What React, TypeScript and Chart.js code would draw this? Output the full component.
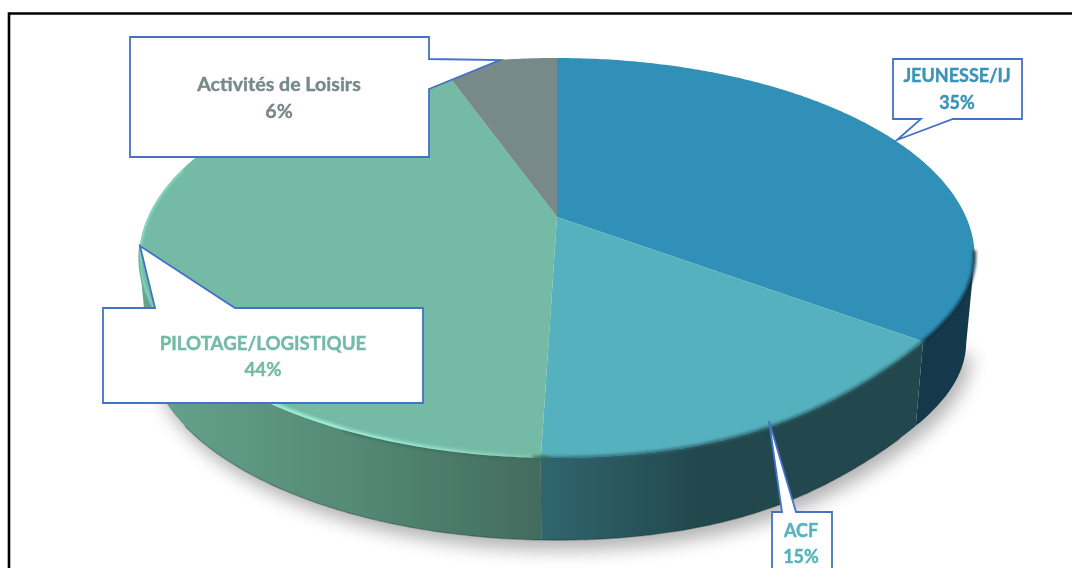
import React, { useEffect, useRef } from "react";
import { Chart, registerables } from "chart.js";

Chart.register(...registerables);

const categories = ["JEUNESSE/IJ", "ACF", "PILOTAGE/LOGISTIQUE", "Activités de Loisirs"];
const values = [35, 15.5, 44, 5.5];
const valueLabels = ["35%", "15%", "44%", "6%"];
const colors = ["#3190B7", "#55B1BD", "#74BAA5", "#78898A"];
const labelColors = ["#3A93B8", "#55B3BF", "#74BAA5", "#78898A"];

// Projection of the tilted disc
const CX = 557, CY = 217, AX = 409, AY = 191.6, P = -0.205;
const DEPTH = 87, SHRINK = 0.98;
const SIDE_FROM = (101.8 * Math.PI) / 180, SIDE_TO = (258.2 * Math.PI) / 180;

const project = (t: number, lower = false) => {
  const u = Math.sin(t), v = -Math.cos(t), d = 1 + P * v;
  const s = lower ? SHRINK : 1;
  // the lower right quadrant of the reference's rim sits slightly inward
  const inQuad = t > Math.PI / 2 && t < Math.PI;
  const dent = inQuad ? 1 - 0.033 * Math.sin(2 * (t - Math.PI / 2)) ** 4 : 1;
  return {
    x: CX + (dent * s * AX * u) / d,
    y: CY + (lower ? DEPTH : 0) + (dent * s * AY * v) / d,
  };
};
const rimPath = (ctx: CanvasRenderingContext2D, a: number, b: number, lower = false, move = false) => {
  const n = Math.max(2, Math.ceil(Math.abs(b - a) * 90));
  for (let i = 0; i <= n; i++) {
    const p = project(a + ((b - a) * i) / n, lower);
    if (i === 0 && move) ctx.moveTo(p.x, p.y);
    else ctx.lineTo(p.x, p.y);
  }
};
const hGrad = (ctx: CanvasRenderingContext2D, x0: number, x1: number, stops: [number, string][]) => {
  const g = ctx.createLinearGradient(x0, 0, x1, 0);
  stops.forEach(([o, c]) => g.addColorStop(o, c));
  return g;
};
const softRim = (ctx: CanvasRenderingContext2D, a: number, b: number, style: any, width: number, blur: number) => {
  ctx.save();
  ctx.filter = `blur(${blur}px)`;
  ctx.strokeStyle = style;
  ctx.lineWidth = width;
  ctx.lineCap = "round";
  ctx.beginPath();
  rimPath(ctx, a, b, false, true);
  ctx.stroke();
  ctx.restore();
};

const callouts = [
  { rect: [893, 59, 129, 60], ptr: [[921, 119], [897, 140], [953, 119]], cx: 957, y: [76, 103], size: 18 },
  { rect: [772, 512, 60, 80], ptr: [[782, 512], [769, 421], [796, 512]], cx: 801, y: [531, 557], size: 18 },
  { rect: [103, 308, 320, 95], ptr: [[155, 308], [140, 246], [235, 308]], cx: 263, y: [344, 370], size: 18.7 },
  { rect: [130, 37, 299, 120], ptr: [[429, 59], [500, 60], [429, 89]], cx: 279, y: [85, 112], size: 19.6 },
];

const disc3d = {
  id: "disc3d",
  beforeDatasetDraw(chart: any) {
    const ctx: CanvasRenderingContext2D = chart.ctx;
    const arcs = chart.getDatasetMeta(0).data.map((el: any) => ({
      a: el.startAngle + Math.PI / 2,
      b: el.endAngle + Math.PI / 2,
    }));
    const apex = { x: CX, y: CY };

    // ground shadow
    ctx.save();
    ctx.shadowColor = "rgba(0,0,0,0.30)";
    ctx.shadowBlur = 18;
    ctx.shadowOffsetX = 5;
    ctx.shadowOffsetY = 10;
    ctx.fillStyle = "#fff";
    ctx.beginPath();
    rimPath(ctx, SIDE_FROM, SIDE_TO, true, true);
    ctx.closePath();
    ctx.fill();
    ctx.restore();

    // sides
    const sideFills = [
      "#14394B",
      hGrad(ctx, 540, 700, [[0, "#31666F"], [1, "#22474D"]]),
      hGrad(ctx, 160, 540, [[0, "#65A18C"], [0.5, "#548A76"], [1, "#436C5E"]]),
      "#555",
    ];
    arcs.forEach((r: any, i: number) => {
      const a = Math.max(r.a, SIDE_FROM), b = Math.min(r.b, SIDE_TO);
      if (b <= a) return;
      ctx.beginPath();
      rimPath(ctx, a, b, false, true);
      rimPath(ctx, b, a, true);
      ctx.closePath();
      ctx.fillStyle = sideFills[i];
      ctx.fill();
    });
    // dark bottom edge of the side
    ctx.save();
    ctx.strokeStyle = "rgba(10,30,30,0.35)";
    ctx.lineWidth = 1.2;
    ctx.beginPath();
    rimPath(ctx, (130 * Math.PI) / 180, (235 * Math.PI) / 180, true, true);
    ctx.stroke();
    ctx.restore();

    // top faces
    arcs.forEach((r: any, i: number) => {
      ctx.beginPath();
      ctx.moveTo(apex.x, apex.y);
      rimPath(ctx, r.a, r.b);
      ctx.closePath();
      ctx.fillStyle = colors[i];
      ctx.fill();
    });

    // bevel along the rim
    const rad = (d: number) => (d * Math.PI) / 180;
    softRim(ctx, rad(100), arcs[0].b, "#0E3246", 3, 1.5);
    softRim(ctx, arcs[1].a, arcs[1].b, "#2E6570", 3, 1.6);
    softRim(ctx, rad(181), rad(205), "#3E6A5D", 3, 1.5);
    ctx.save();
    ctx.beginPath();
    ctx.moveTo(CX, CY);
    rimPath(ctx, arcs[2].a, arcs[2].b);
    ctx.closePath();
    ctx.clip();
    softRim(ctx, rad(183), rad(232), hGrad(ctx, 230, 540, [[0, "#9DEFD6"], [0.5, "#9DEFD6"], [1, "#86CBB6"]]), 6, 1.4);
    softRim(ctx, rad(232), rad(285), "#86DCC2", 4, 1);
    ctx.restore();
    softRim(ctx, rad(232), rad(262), "#6FB7A2", 1.5, 0.6);
    return false;
  },
  afterDraw(chart: any) {
    const ctx: CanvasRenderingContext2D = chart.ctx;
    callouts.forEach((c, i) => {
      const [x, y, w, h] = c.rect;
      const [p0, tip, p1] = c.ptr;
      ctx.beginPath();
      if (p0[1] === y) {
        ctx.moveTo(x, y);
        ctx.lineTo(p0[0], y);
        ctx.lineTo(tip[0], tip[1]);
        ctx.lineTo(p1[0], y);
        ctx.lineTo(x + w, y);
        ctx.lineTo(x + w, y + h);
        ctx.lineTo(x, y + h);
      } else if (p0[1] === y + h) {
        ctx.moveTo(x, y);
        ctx.lineTo(x + w, y);
        ctx.lineTo(x + w, y + h);
        ctx.lineTo(p1[0], y + h);
        ctx.lineTo(tip[0], tip[1]);
        ctx.lineTo(p0[0], y + h);
        ctx.lineTo(x, y + h);
      } else {
        ctx.moveTo(x, y);
        ctx.lineTo(x + w, y);
        ctx.lineTo(x + w, p0[1]);
        ctx.lineTo(tip[0], tip[1]);
        ctx.lineTo(x + w, p1[1]);
        ctx.lineTo(x + w, y + h);
        ctx.lineTo(x, y + h);
      }
      ctx.closePath();
      ctx.fillStyle = "#fff";
      ctx.fill();
      ctx.strokeStyle = "#4472C4";
      ctx.lineWidth = 1.8;
      ctx.lineJoin = "miter";
      ctx.stroke();

      ctx.fillStyle = labelColors[i];
      ctx.strokeStyle = labelColors[i];
      ctx.lineWidth = 0.4;
      ctx.font = `bold ${c.size}px Lato`;
      ctx.textAlign = "center";
      ctx.textBaseline = "middle";
      [categories[i], valueLabels[i]].forEach((t, k) => {
        ctx.fillText(t, c.cx, c.y[k]);
        ctx.strokeText(t, c.cx, c.y[k]);
      });
    });

    // outer frame: only the left and top edges fall inside the picture
    ctx.strokeStyle = "#000";
    ctx.lineWidth = 2.6;
    ctx.lineJoin = "miter";
    ctx.beginPath();
    ctx.moveTo(9, 568);
    ctx.lineTo(9, 13.5);
    ctx.lineTo(1072, 13.5);
    ctx.stroke();
  },
};

export default function App() {
  const ref = useRef<HTMLCanvasElement>(null);
  useEffect(() => {
    const chart = new Chart(ref.current!, {
      type: "pie",
      data: {
        labels: categories,
        datasets: [{ data: values, backgroundColor: colors, borderWidth: 0 }],
      },
      options: {
        responsive: false,
        animation: false,
        plugins: { legend: { display: false }, tooltip: { enabled: false } },
      },
      plugins: [disc3d],
    });
    return () => chart.destroy();
  }, []);
  return (
    <canvas
      ref={ref}
      width={1072}
      height={568}
      style={{ position: "fixed", left: 0, top: 0, display: "block", background: "#fff" }}
    />
  );
}
